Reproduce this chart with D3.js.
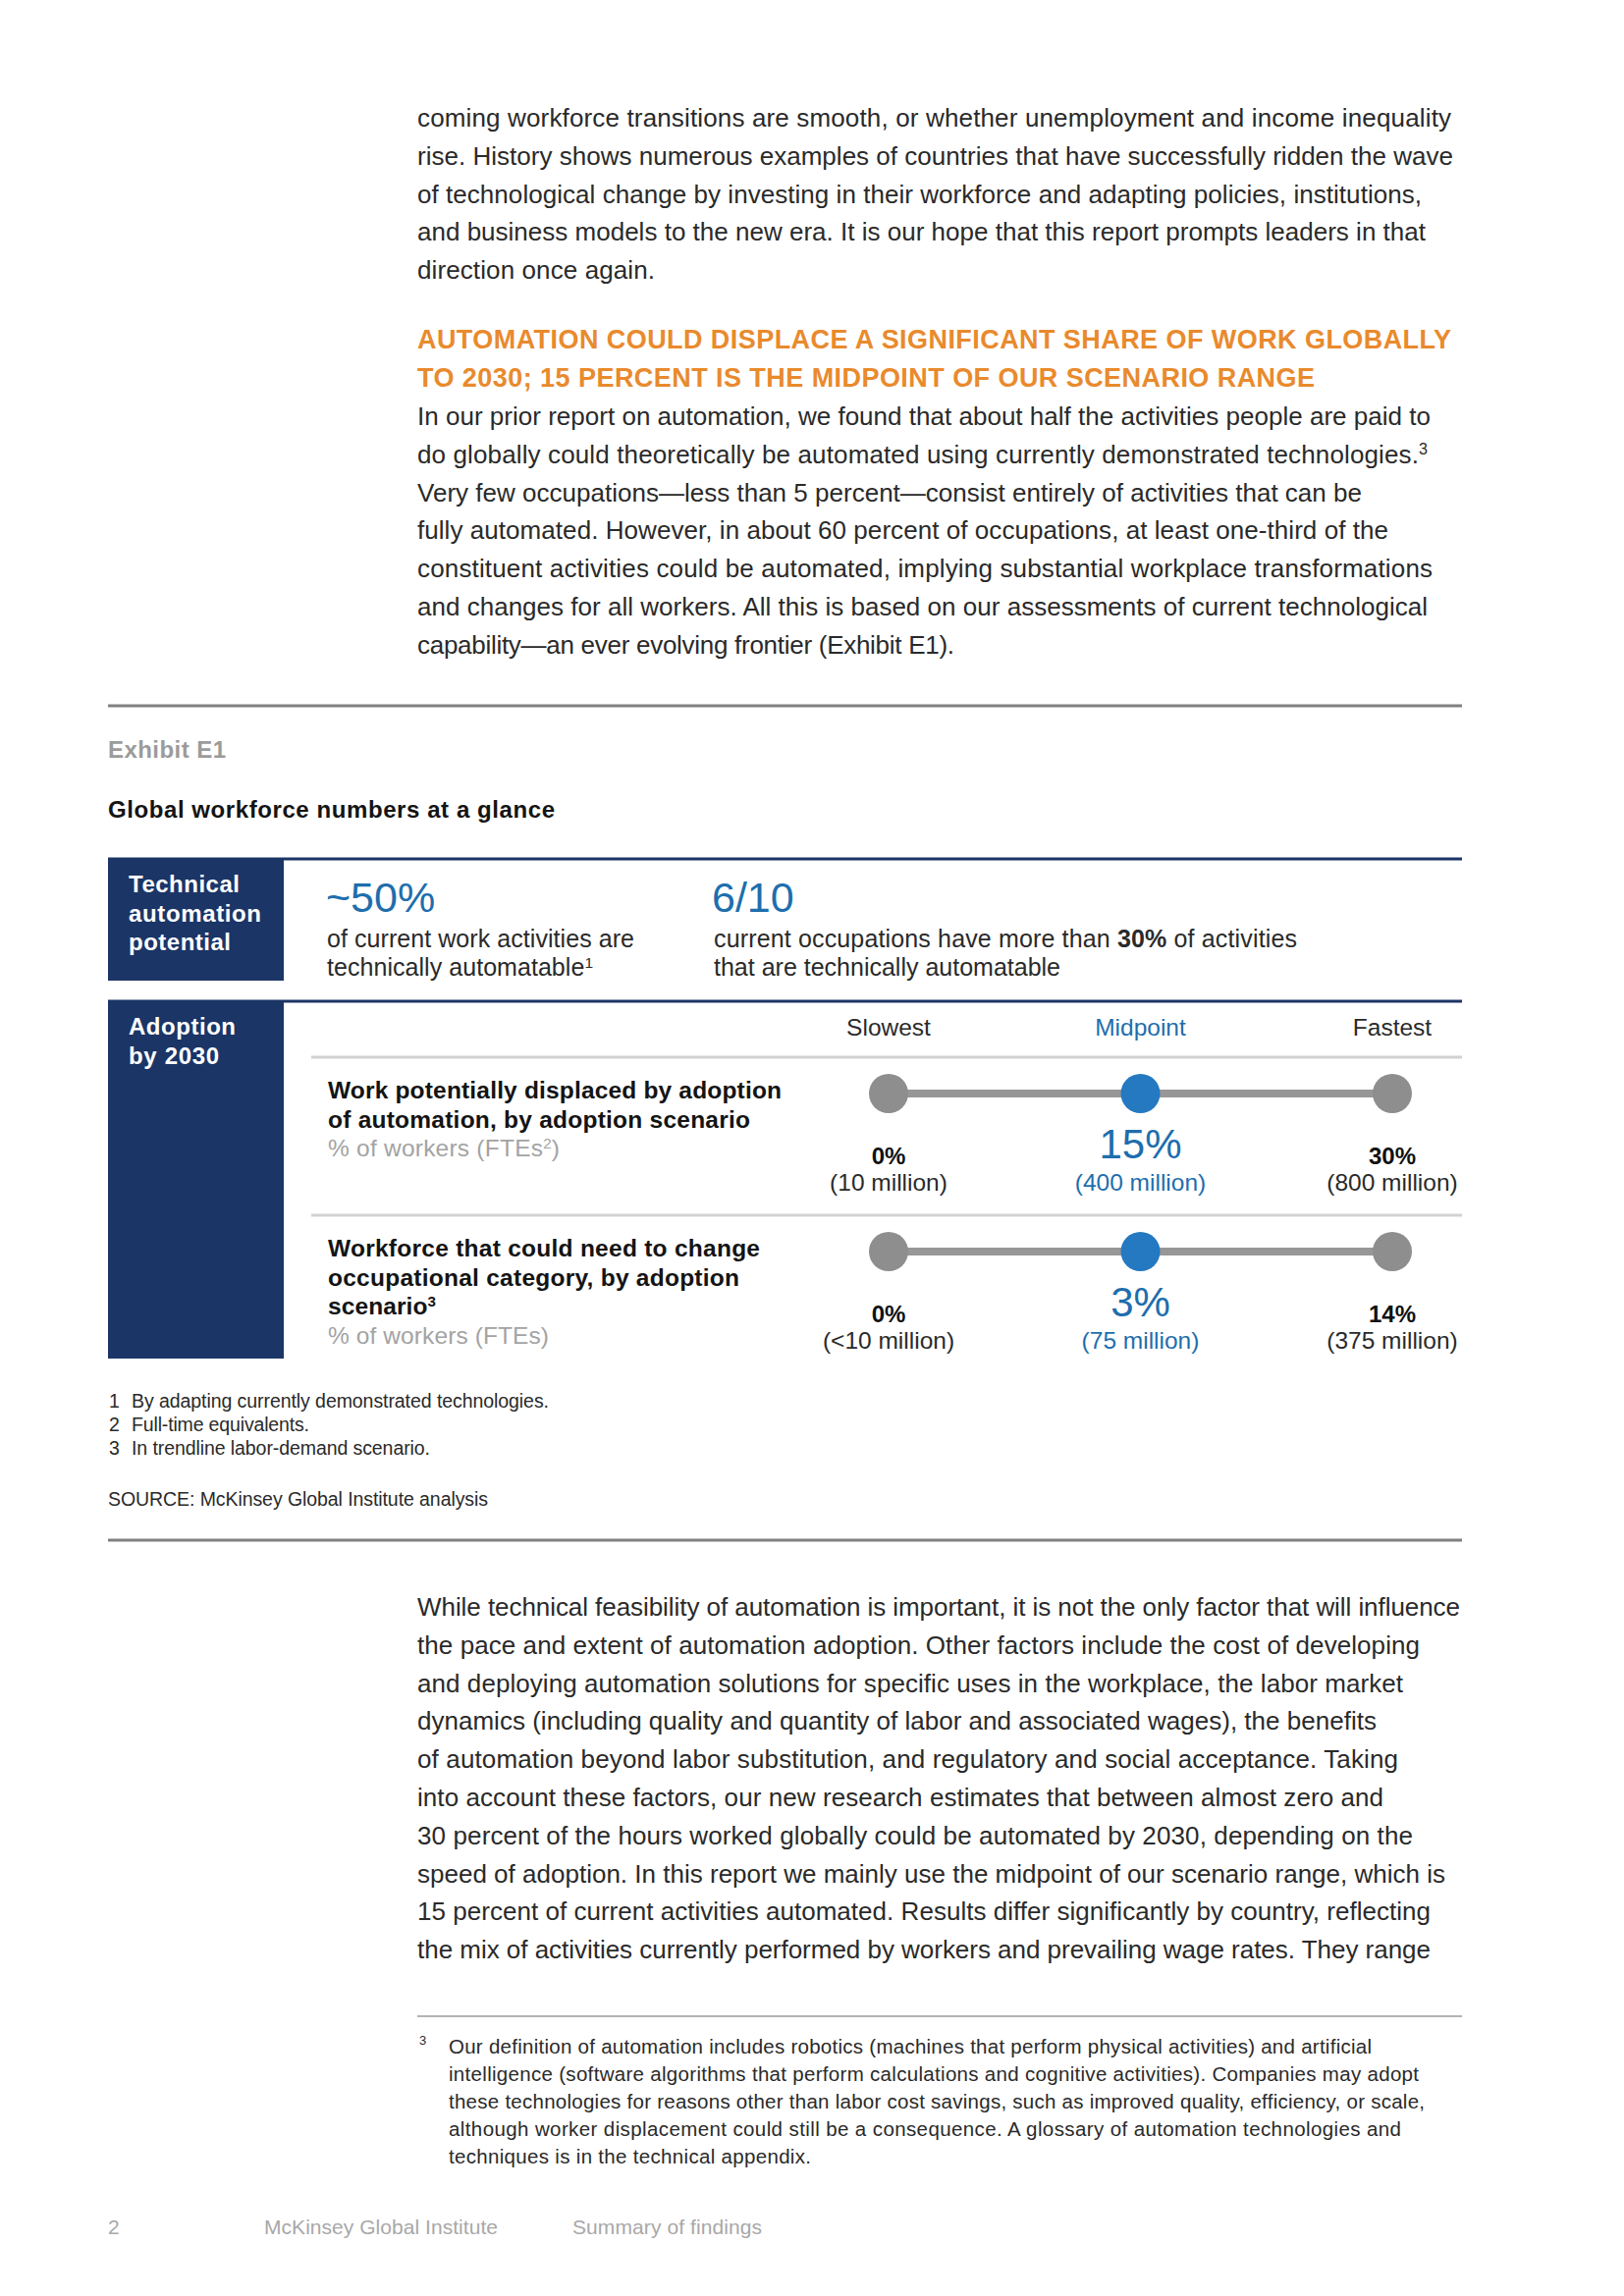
<!DOCTYPE html>
<html><head><meta charset="utf-8">
<script src="https://cdn.jsdelivr.net/npm/d3@7"></script>
<style>html,body{margin:0;padding:0;background:#fff;} svg{display:block;font-family:"Liberation Sans",Arial,Helvetica,sans-serif;}</style>
</head><body>
<script>
// ---------- DATA ----------
const scenarios = ["Slowest", "Midpoint", "Fastest"];
const rowKeys = ["displaced", "change"];
const displacedPct = [0, 15, 30];
const displacedPeople = ["(10 million)", "(400 million)", "(800 million)"];
const changePct = [0, 3, 14];
const changePeople = ["(<10 million)", "(75 million)", "(375 million)"];
const techShare = "~50%";
const occupationShare = "6/10";
const highlightIndex = 1; // midpoint

// ---------- TEXT ----------
const para1 = [
  ["coming workforce transitions are smooth, or whether unemployment and income inequality", 1478],
  ["rise. History shows numerous examples of countries that have successfully ridden the wave", 1480],
  ["of technological change by investing in their workforce and adapting policies, institutions,", 1448],
  ["and business models to the new era. It is our hope that this report prompts leaders in that", 1452],
  ["direction once again.", 667]
];
const heading = [
  ["AUTOMATION COULD DISPLACE A SIGNIFICANT SHARE OF WORK GLOBALLY", 1478],
  ["TO 2030; 15 PERCENT IS THE MIDPOINT OF OUR SCENARIO RANGE", 1339]
];
const para2 = [
  [["In our prior report on automation, we found that about half the activities people are paid to"], 1457],
  [["do globally could theoretically be automated using currently demonstrated technologies.", {t:"3", sup:true}], 1454],
  [["Very few occupations\u2014less than 5 percent\u2014consist entirely of activities that can be"], 1387],
  [["fully automated. However, in about 60 percent of occupations, at least one-third of the"], 1414],
  [["constituent activities could be automated, implying substantial workplace transformations"], 1459],
  [["and changes for all workers. All this is based on our assessments of current technological"], 1454],
  [["capability\u2014an ever evolving frontier (Exhibit E1)."], 972]
];
const para3 = [
  ["While technical feasibility of automation is important, it is not the only factor that will influence", 1487],
  ["the pace and extent of automation adoption. Other factors include the cost of developing", 1446],
  ["and deploying automation solutions for specific uses in the workplace, the labor market", 1429],
  ["dynamics (including quality and quantity of labor and associated wages), the benefits", 1402],
  ["of automation beyond labor substitution, and regulatory and social acceptance. Taking", 1424],
  ["into account these factors, our new research estimates that between almost zero and", 1409],
  ["30 percent of the hours worked globally could be automated by 2030, depending on the", 1439],
  ["speed of adoption. In this report we mainly use the midpoint of our scenario range, which is", 1472],
  ["15 percent of current activities automated. Results differ significantly by country, reflecting", 1457],
  ["the mix of activities currently performed by workers and prevailing wage rates. They range", 1457]
];
const footnote3 = [
  ["Our definition of automation includes robotics (machines that perform physical activities) and artificial", 1397],
  ["intelligence (software algorithms that perform calculations and cognitive activities). Companies may adopt", 1445],
  ["these technologies for reasons other than labor cost savings, such as improved quality, efficiency, or scale,", 1451],
  ["although worker displacement could still be a consequence. A glossary of automation technologies and", 1427],
  ["techniques is in the technical appendix.", 826]
];
const exhibitNotes = [
  ["1", "By adapting currently demonstrated technologies.", 559],
  ["2", "Full-time equivalents.", 315],
  ["3", "In trendline labor-demand scenario.", 438]
];

// ---------- STYLE ----------
const C = {
  text: "#2a2a2a", orange: "#E98A2D", navy: "#1B3566", blue: "#1E6EAD",
  dotBlue: "#2479C1", dotGrey: "#8E8E8E", line: "#979797", rule: "#808080",
  light: "#D2D2D2", sub: "#A3A3A3", footer: "#A8A8A8"
};

const W = 1654, H = 2339;
const svg = d3.select("body").append("svg").attr("width", W).attr("height", H);
svg.append("rect").attr("width", W).attr("height", H).attr("fill", "#fff");

function rich(g, x, y, segs, o) {
  const t = g.append("text").attr("x", x).attr("y", y)
    .attr("font-size", o.size).attr("fill", o.fill || C.text)
    .attr("font-weight", o.bold ? "bold" : "normal")
    .attr("text-anchor", o.anchor || "start");
  if (o.ls != null) t.attr("letter-spacing", o.ls);
  (Array.isArray(segs) ? segs : [segs]).forEach(s => {
    if (typeof s === "string") { t.append("tspan").text(s); return; }
    const ts = t.append("tspan").text(s.t);
    if (s.b) ts.attr("font-weight", "bold");
    if (s.fill) ts.attr("fill", s.fill);
    if (s.sup) ts.attr("font-size", o.size * 0.62).attr("baseline-shift", "super");
  });
  if (o.w) t.attr("textLength", o.w).attr("lengthAdjust", "spacing");
  return t;
}

const lh = 38.8;
const bodyX = 425;
const body = svg.append("g");
para1.forEach((l, i) => rich(body, bodyX, 129 + i * lh, l[0], {size: 26, w: l[1] - bodyX}));
heading.forEach((l, i) => rich(body, bodyX, 355 + i * lh, l[0], {size: 27, bold: true, fill: C.orange, w: l[1] - bodyX}));
para2.forEach((l, i) => rich(body, bodyX, 433 + i * lh, l[0], {size: 26, w: l[1] - bodyX}));
para3.forEach((l, i) => rich(body, bodyX, 1646 + i * lh, l[0], {size: 26, w: l[1] - bodyX}));

// ---------- EXHIBIT ----------
const ex = svg.append("g");
const L = 110, R = 1489;
ex.append("line").attr("x1", L).attr("x2", R).attr("y1", 719).attr("y2", 719).attr("stroke", C.rule).attr("stroke-width", 3);
rich(ex, L, 772, "Exhibit E1", {size: 24, bold: true, fill: "#9B9B9B", w: 120});
rich(ex, L, 833, "Global workforce numbers at a glance", {size: 24, bold: true, fill: "#141414", w: 455});

// Technical automation potential
ex.append("line").attr("x1", L).attr("x2", R).attr("y1", 875).attr("y2", 875).attr("stroke", C.navy).attr("stroke-width", 3);
ex.append("rect").attr("x", L).attr("y", 874).attr("width", 179).attr("height", 125).attr("fill", C.navy);
[["Technical", 113], ["automation", 135], ["potential", 104]].forEach((d, i) =>
  rich(ex, 131, 909 + i * 29.5, d[0], {size: 24, bold: true, fill: "#fff", w: d[1]}));
rich(ex, 332, 929, techShare, {size: 43, fill: C.blue});
rich(ex, 333, 965, "of current work activities are", {size: 25, w: 313});
rich(ex, 333, 994, ["technically automatable", {t: "1", sup: true}], {size: 25, w: 271});
rich(ex, 725, 929, occupationShare, {size: 43, fill: C.blue});
rich(ex, 727, 965, ["current occupations have more than ", {t: "30%", b: true}, " of activities"], {size: 25, w: 594});
rich(ex, 727, 994, "that are technically automatable", {size: 25, w: 353});

// Adoption by 2030
ex.append("line").attr("x1", L).attr("x2", R).attr("y1", 1020).attr("y2", 1020).attr("stroke", C.navy).attr("stroke-width", 3);
ex.append("rect").attr("x", L).attr("y", 1019).attr("width", 179).attr("height", 365).attr("fill", C.navy);
[["Adoption", 109], ["by 2030", 92]].forEach((d, i) =>
  rich(ex, 131, 1054 + i * 29.5, d[0], {size: 24, bold: true, fill: "#fff", w: d[1]}));

const x = d3.scalePoint().domain(scenarios).range([905, 1418]);
const y = d3.scalePoint().domain(rowKeys).range([1114, 1275]);

ex.selectAll("text.hdr").data(scenarios).join("text").attr("class", "hdr")
  .attr("x", d => x(d)).attr("y", 1055).attr("text-anchor", "middle")
  .attr("font-size", 24.5).attr("fill", (d, i) => i === highlightIndex ? C.blue : C.text)
  .text(d => d);

[1077, 1238].forEach(yy => ex.append("line").attr("x1", 317).attr("x2", R).attr("y1", yy).attr("y2", yy)
  .attr("stroke", C.light).attr("stroke-width", 3));

// row labels
const rowLabels = {
  displaced: {lines: [[["Work potentially displaced by adoption"], 796], [["of automation, by adoption scenario"], 764]],
              sub: [["% of workers (FTEs", {t: "2", sup: true}, ")"], 570]},
  change: {lines: [[["Workforce that could need to change"], 774], [["occupational category, by adoption"], 753], [["scenario", {t: "3", sup: true}], 444]],
           sub: [["% of workers (FTEs)"], 559]}
};
const rowValues = {
  displaced: {pct: displacedPct, people: displacedPeople},
  change: {pct: changePct, people: changePeople}
};
rowKeys.forEach(k => {
  const cy = y(k);
  const lab = rowLabels[k];
  const by = cy + 5;
  lab.lines.forEach((l, i) => rich(ex, 334, by + i * 29.7, l[0], {size: 24.5, bold: true, fill: "#141414", w: l[1] - 334}));
  rich(ex, 334, by + lab.lines.length * 29.7, lab.sub[0], {size: 24.5, fill: C.sub, w: lab.sub[1] - 334});

  const g = ex.append("g");
  g.append("line").attr("x1", x(scenarios[0])).attr("x2", x(scenarios[2]))
    .attr("y1", cy).attr("y2", cy).attr("stroke", C.line).attr("stroke-width", 8);
  g.selectAll("circle").data(scenarios).join("circle")
    .attr("cx", d => x(d)).attr("cy", cy).attr("r", 20)
    .attr("fill", (d, i) => i === highlightIndex ? C.dotBlue : C.dotGrey);

  const vals = rowValues[k];
  g.selectAll("text.pct").data(scenarios).join("text").attr("class", "pct")
    .attr("x", d => x(d)).attr("text-anchor", "middle")
    .attr("y", (d, i) => i === highlightIndex ? cy + 66 : cy + 72)
    .attr("font-size", (d, i) => i === highlightIndex ? 42 : 24)
    .attr("font-weight", (d, i) => i === highlightIndex ? "normal" : "bold")
    .attr("fill", (d, i) => i === highlightIndex ? C.blue : "#111")
    .text((d, i) => vals.pct[i] + "%");
  g.selectAll("text.ppl").data(scenarios).join("text").attr("class", "ppl")
    .attr("x", d => x(d)).attr("text-anchor", "middle")
    .attr("y", cy + 99)
    .attr("font-size", 24.5)
    .attr("fill", (d, i) => i === highlightIndex ? C.blue : C.text)
    .text((d, i) => vals.people[i]);
});

// notes
exhibitNotes.forEach((n, i) => {
  rich(ex, 111, 1434 + i * 24, n[0], {size: 19.5});
  rich(ex, 134, 1434 + i * 24, n[1], {size: 19.5, w: n[2] - 134});
});
rich(ex, 110, 1534, "SOURCE: McKinsey Global Institute analysis", {size: 19.5, w: 387});
ex.append("line").attr("x1", L).attr("x2", R).attr("y1", 1569).attr("y2", 1569).attr("stroke", C.rule).attr("stroke-width", 3);

// ---------- FOOTNOTE ----------
const fn = svg.append("g");
fn.append("line").attr("x1", 425).attr("x2", R).attr("y1", 2054).attr("y2", 2054).attr("stroke", "#9a9a9a").attr("stroke-width", 1.5);
rich(fn, 427, 2083, "3", {size: 13});
footnote3.forEach((l, i) => rich(fn, 457, 2092 + i * 28, l[0], {size: 20.5, w: l[1] - 457}));

// ---------- PAGE FOOTER ----------
rich(svg, 110, 2276, "2", {size: 21, fill: C.footer});
rich(svg, 269, 2276, "McKinsey Global Institute", {size: 21, fill: C.footer, w: 238});
rich(svg, 583, 2276, "Summary of findings", {size: 21, fill: C.footer, w: 193});
</script>
</body></html>
